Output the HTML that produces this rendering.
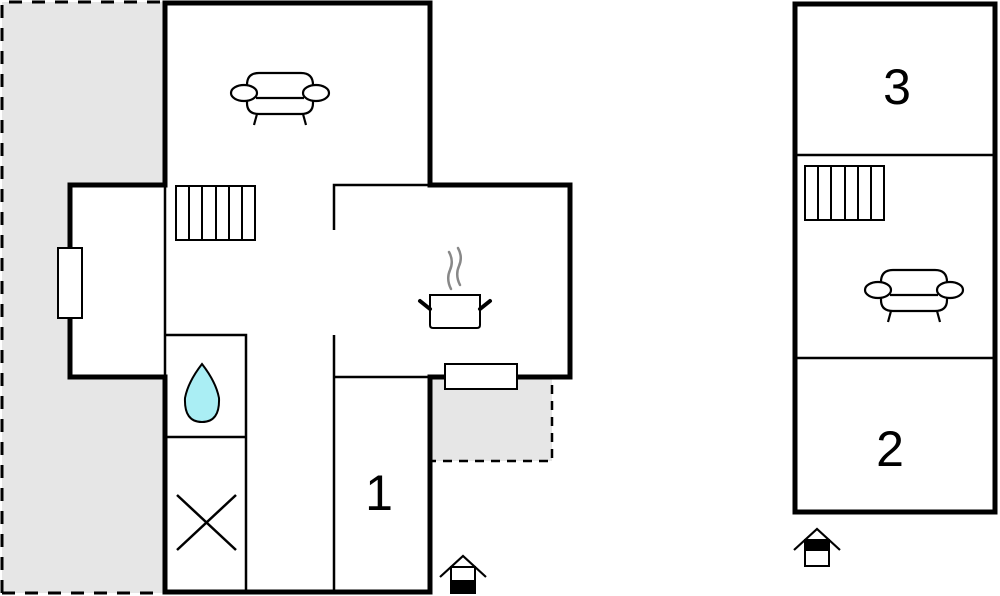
<!DOCTYPE html>
<html><head><meta charset="utf-8"><style>html,body{margin:0;padding:0;background:#fff;width:1000px;height:596px;overflow:hidden}</style></head>
<body>
<svg width="1000" height="596" viewBox="0 0 1000 596" xmlns="http://www.w3.org/2000/svg" font-family="Liberation Sans, sans-serif">
<defs>
<g id="sofa" fill="#fff" stroke="#000" stroke-width="2.2">
<path d="M-33,-8 Q-33,-20 -21,-20 L21,-20 Q33,-20 33,-8 L33,10 Q33,21 21,21 L-21,21 Q-33,21 -33,10 Z"/>
<line x1="-24" y1="5" x2="24" y2="5"/>
<ellipse cx="-36" cy="0" rx="13" ry="8"/>
<ellipse cx="36" cy="0" rx="13" ry="8"/>
<line x1="-23" y1="21" x2="-26" y2="32"/><line x1="23" y1="21" x2="26" y2="32"/>
</g>
<g id="stairs" fill="#fff" stroke="#000" stroke-width="2">
<rect x="0" y="0" width="79" height="54"/>
<line x1="13" y1="0" x2="13" y2="54"/><line x1="26" y1="0" x2="26" y2="54"/><line x1="40" y1="0" x2="40" y2="54"/><line x1="53" y1="0" x2="53" y2="54"/><line x1="66" y1="0" x2="66" y2="54"/>
</g>
<g id="entry" stroke="#000" fill="none">
<polyline points="-23,13 0,-8 23,13" stroke-width="2.2"/>
<rect x="-12" y="3" width="24" height="26" fill="#fff" stroke-width="2"/>
</g>
</defs>
<rect x="2" y="2" width="163" height="591" fill="#e6e6e6"/>
<path d="M2,593 L2,2 L165,2" fill="none" stroke="#000" stroke-width="3" stroke-dasharray="13,10"/>
<line x1="2" y1="593" x2="165" y2="593" stroke="#000" stroke-width="3" stroke-dasharray="13,10"/>
<rect x="432" y="379" width="120" height="82" fill="#e6e6e6"/>
<path d="M552,385 L552,461 L432,461" fill="none" stroke="#000" stroke-width="2.5" stroke-dasharray="9,7"/>
<path d="M165,3 L430,3 L430,185 L570,185 L570,377 L430,377 L430,592 L165,592 L165,377 L70,377 L70,185 L165,185 Z" fill="#fff"/>
<g stroke="#000" stroke-width="5" fill="none" stroke-linecap="square">
<polyline points="165,185 165,3 430,3 430,185 570,185 570,377 430,377 430,592 165,592 165,377"/>
<polyline points="165,185 70,185 70,377 165,377"/>
</g>
<g stroke="#000" stroke-width="2.5" fill="none">
<line x1="165" y1="185" x2="165" y2="377"/>
<polyline points="334,230 334,185 430,185"/>
<line x1="334" y1="335" x2="334" y2="592"/>
<line x1="334" y1="377" x2="430" y2="377"/>
<polyline points="165,335 246,335 246,592"/>
<line x1="165" y1="437" x2="246" y2="437"/>
<line x1="177" y1="495" x2="236" y2="550"/><line x1="236" y1="495" x2="177" y2="550"/>
</g>
<rect x="58" y="248" width="24" height="70" fill="#fff" stroke="#000" stroke-width="2"/>
<rect x="445" y="364" width="72" height="25" fill="#fff" stroke="#000" stroke-width="2"/>
<path d="M202,364 Q188,382 185,398 Q184,422 202,422 Q220,422 219,398 Q216,382 202,364 Z" fill="#aaeef4" stroke="#000" stroke-width="2"/>
<use href="#stairs" x="176" y="186"/>
<use href="#sofa" x="280" y="93"/>
<g stroke-linecap="round">
<path d="M451,289 Q446,279 450,270 Q454,261 449,252 M460,285 Q455,275 459,266 Q463,257 458,248" stroke="#888" stroke-width="2.5" fill="none"/>
<path d="M430,295 L480,295 L480,325 Q480,328 477,328 L433,328 Q430,328 430,325 Z" fill="#fff" stroke="#000" stroke-width="2"/>
<line x1="420" y1="301" x2="430" y2="309" stroke="#000" stroke-width="4"/>
<line x1="490" y1="301" x2="480" y2="309" stroke="#000" stroke-width="4"/>
</g>
<text x="379" y="510" font-size="50" text-anchor="middle">1</text>
<g transform="translate(463,564)"><use href="#entry"/><rect x="-11" y="16" width="22" height="12" fill="#000"/></g>
<rect x="795" y="4" width="200" height="508" fill="#fff" stroke="#000" stroke-width="5"/>
<line x1="795" y1="155" x2="995" y2="155" stroke="#000" stroke-width="2.5"/>
<line x1="795" y1="358" x2="995" y2="358" stroke="#000" stroke-width="2.5"/>
<text x="897" y="104" font-size="50" text-anchor="middle">3</text>
<text x="890" y="466" font-size="50" text-anchor="middle">2</text>
<use href="#stairs" x="805" y="166"/>
<use href="#sofa" x="914" y="290"/>
<g transform="translate(817,537)"><use href="#entry"/><rect x="-11" y="4" width="22" height="10" fill="#000"/></g>
</svg>
</body></html>
